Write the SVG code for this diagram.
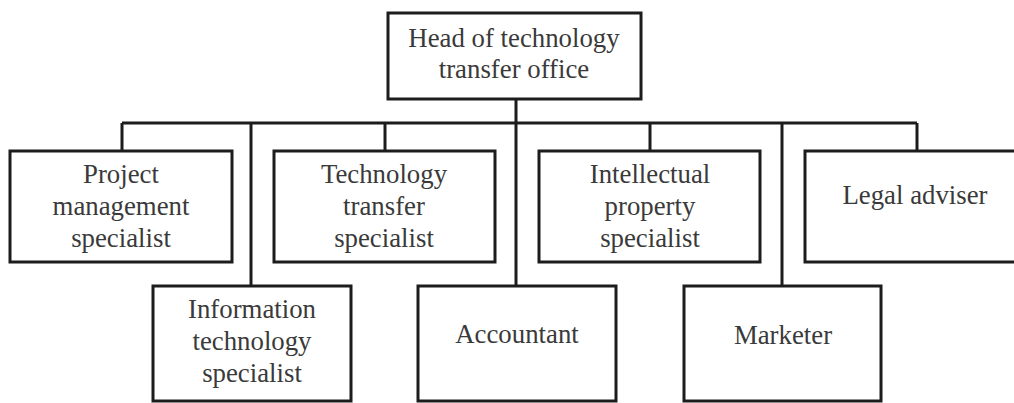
<svg xmlns="http://www.w3.org/2000/svg" width="1014" height="403" viewBox="0 0 1014 403">
<style>
.box{fill:#fff;stroke:#1c1c1c;stroke-width:3}
.lbl{font-family:"Liberation Serif","Times New Roman",serif;font-size:26.8px;fill:#3a3a3a;text-anchor:middle}
.conn{fill:none;stroke:#1c1c1c;stroke-width:3}
</style>
<rect width="1014" height="403" fill="#fff"/>
<g id="connectors" class="conn">
<line x1="516" y1="99" x2="516" y2="286"/>
<line x1="122" y1="123" x2="917" y2="123"/>
<line x1="122" y1="123" x2="122" y2="151"/>
<line x1="251" y1="123" x2="251" y2="286"/>
<line x1="385" y1="123" x2="385" y2="151"/>
<line x1="650" y1="123" x2="650" y2="151"/>
<line x1="782" y1="123" x2="782" y2="286"/>
<line x1="917" y1="123" x2="917" y2="151"/>
</g>
<g id="head">
<rect class="box" x="388" y="13" width="253" height="86"/>
<text class="lbl" x="514" y="47">Head of technology</text>
<text class="lbl" x="514" y="78">transfer office</text>
</g>
<g id="project">
<rect class="box" x="10" y="151" width="222" height="111"/>
<text class="lbl" x="121" y="183">Project</text>
<text class="lbl" x="121" y="215">management</text>
<text class="lbl" x="121" y="247">specialist</text>
</g>
<g id="techtransfer">
<rect class="box" x="274" y="151" width="221" height="111"/>
<text class="lbl" x="384" y="183">Technology</text>
<text class="lbl" x="384" y="215">transfer</text>
<text class="lbl" x="384" y="247">specialist</text>
</g>
<g id="ip">
<rect class="box" x="539" y="151" width="221" height="111"/>
<text class="lbl" x="650" y="183">Intellectual</text>
<text class="lbl" x="650" y="215">property</text>
<text class="lbl" x="650" y="247">specialist</text>
</g>
<g id="legal">
<rect class="box" x="805" y="151" width="220" height="111"/>
<text class="lbl" x="915" y="204">Legal adviser</text>
</g>
<g id="it">
<rect class="box" x="153" y="286" width="198" height="115"/>
<text class="lbl" x="252" y="318">Information</text>
<text class="lbl" x="252" y="350">technology</text>
<text class="lbl" x="252" y="382">specialist</text>
</g>
<g id="accountant">
<rect class="box" x="418" y="286" width="198" height="115"/>
<text class="lbl" x="517" y="343">Accountant</text>
</g>
<g id="marketer">
<rect class="box" x="684" y="286" width="197" height="115"/>
<text class="lbl" x="783" y="344">Marketer</text>
</g>
</svg>
